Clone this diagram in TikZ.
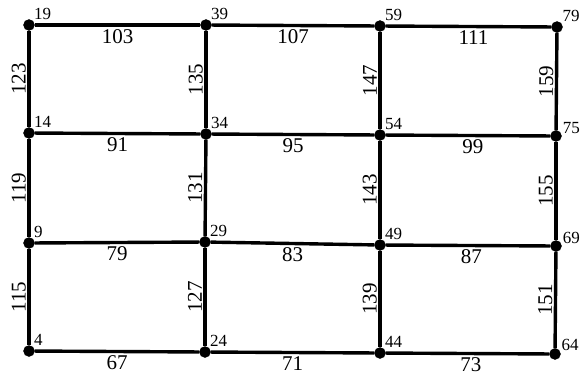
\documentclass[tikz,border=0pt]{standalone}
\usepackage{fontspec}
\setmainfont{Liberation Serif}

\begin{document}
\begin{tikzpicture}[x=1pt, y=-1pt,
    vertex/.style={draw, circle, fill=black, inner sep=0pt, minimum size=11pt},
    vlabel/.style={font=\fontsize{17}{19}\selectfont, inner sep=1pt},
    edge/.style={black, line width=3.4pt},
    hlabel/.style={below, inner sep=2.5pt, font=\fontsize{21}{23}\selectfont},
    wlabel/.style={midway, sloped, above, inner sep=1.5pt, font=\fontsize{21}{23}\selectfont}]

\useasboundingbox (0,0) rectangle (585,376);

% Vertices with their numbers
\foreach \n/\x/\y/\a in {19/29/25/45, 39/206/25/45, 59/380/26/45, 79/557/27/40,
                         14/29/133/45, 34/206/134/45, 54/380/135/45, 75/556/136/10,
                         9/29/243/45, 29/205/242/45, 49/380/245/45, 69/556/246/10,
                         4/29/351/45, 24/205/352/45, 44/380/353/45, 64/555/354/20} {
    \node[vertex, label={[vlabel]\a:\n}] (v\n) at (\x,\y) {};
}

% Horizontal edges, weight below
\foreach \a/\b/\w/\p in {19/39/103/0.5, 39/59/107/0.5, 59/79/111/0.53,
                         14/34/91/0.5, 34/54/95/0.5, 54/75/99/0.53,
                         9/29/79/0.5, 29/49/83/0.5, 49/69/87/0.52,
                         4/24/67/0.5, 24/44/71/0.5, 44/64/73/0.52} {
    \draw[edge] (v\a) -- (v\b) node[hlabel, pos=\p] {\w};
}

% Vertical edges, weight to the left
\foreach \a/\b/\w in {14/19/123, 34/39/135, 54/59/147, 75/79/159,
                      9/14/119, 29/34/131, 49/54/143, 69/75/155,
                      4/9/115, 24/29/127, 44/49/139, 64/69/151} {
    \draw[edge] (v\a) -- (v\b) node[wlabel] {\w};
}

\end{tikzpicture}
\end{document}
